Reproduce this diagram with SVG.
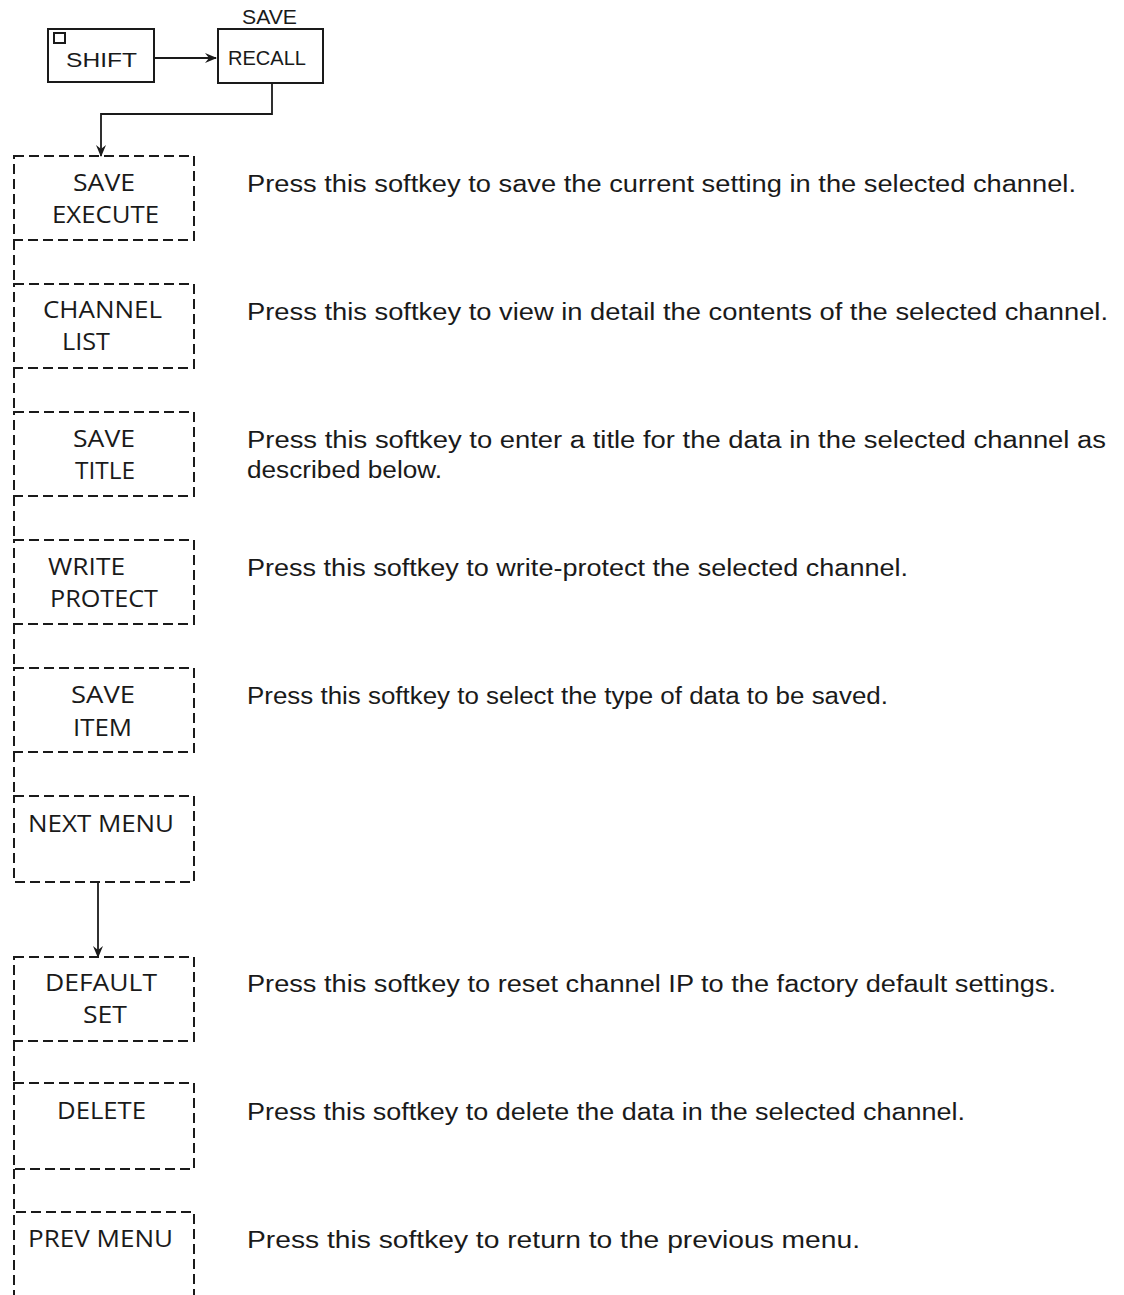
<svg xmlns="http://www.w3.org/2000/svg" width="1124" height="1295" viewBox="0 0 1124 1295">
<defs>
<style>
.key{fill:none;stroke:#1a1a1a;stroke-width:2}
.soft{fill:none;stroke:#1a1a1a;stroke-width:2;stroke-dasharray:10 5}
.link{fill:none;stroke:#1a1a1a;stroke-width:1.8}
.lbl{font-family:"Open Sans","DejaVu Sans",sans-serif;font-size:24px;fill:#1a1a1a}
.klbl{font-family:"Liberation Sans",Arial,sans-serif;font-size:21px;fill:#1a1a1a}
.desc{font-family:"Liberation Sans",Arial,sans-serif;font-size:23px;fill:#1a1a1a}
</style>
<marker id="ah" viewBox="0 0 12 12" refX="11" refY="6" markerWidth="12" markerHeight="12" markerUnits="userSpaceOnUse" orient="auto">
<path d="M0,1 L12,6 L0,11 L4,6 Z" fill="#1a1a1a"/>
</marker>
</defs>
<rect width="1124" height="1295" fill="#ffffff"/>

<g id="shift">
<rect class="key" x="48" y="29" width="106" height="53"/>
<rect class="key" x="54" y="33" width="11" height="10" stroke-width="1.5"/>
<text class="klbl" x="66" y="67" font-size="27" textLength="71" lengthAdjust="spacingAndGlyphs">SHIFT</text>
</g>
<g id="recall">
<rect class="key" x="218" y="29" width="105" height="54"/>
<text class="klbl" x="242" y="24" textLength="55" lengthAdjust="spacingAndGlyphs">SAVE</text>
<text class="klbl" x="228" y="65" textLength="78" lengthAdjust="spacingAndGlyphs">RECALL</text>
</g>

<g id="connectors">
<line class="link" x1="154" y1="58" x2="216" y2="58" marker-end="url(#ah)"/>
<path class="link" d="M272,83 V114 H101 V156" marker-end="url(#ah)"/>
<line class="link" x1="98" y1="882" x2="98" y2="957" marker-end="url(#ah)"/>
<path class="soft" d="M14,240 V284 M14,368 V412 M14,496 V540 M14,624 V668 M14,752 V796 M14,1041 V1083 M14,1169 V1212"/>
</g>

<g id="save-execute">
<rect class="soft" x="14" y="156" width="180" height="84"/>
<text class="lbl" x="73" y="191" textLength="62" lengthAdjust="spacingAndGlyphs">SAVE</text>
<text class="lbl" x="52" y="223" textLength="107" lengthAdjust="spacingAndGlyphs">EXECUTE</text>
</g>
<g id="channel-list">
<rect class="soft" x="14" y="284" width="180" height="84"/>
<text class="lbl" x="43" y="318" textLength="119" lengthAdjust="spacingAndGlyphs">CHANNEL</text>
<text class="lbl" x="62" y="350" textLength="48" lengthAdjust="spacingAndGlyphs">LIST</text>
</g>
<g id="save-title">
<rect class="soft" x="14" y="412" width="180" height="84"/>
<text class="lbl" x="73" y="447" textLength="62" lengthAdjust="spacingAndGlyphs">SAVE</text>
<text class="lbl" x="75" y="479" textLength="60" lengthAdjust="spacingAndGlyphs">TITLE</text>
</g>
<g id="write-protect">
<rect class="soft" x="14" y="540" width="180" height="84"/>
<text class="lbl" x="48" y="575" textLength="77" lengthAdjust="spacingAndGlyphs">WRITE</text>
<text class="lbl" x="50" y="607" textLength="108" lengthAdjust="spacingAndGlyphs">PROTECT</text>
</g>
<g id="save-item">
<rect class="soft" x="14" y="668" width="180" height="84"/>
<text class="lbl" x="71" y="703" textLength="64" lengthAdjust="spacingAndGlyphs">SAVE</text>
<text class="lbl" x="73" y="736" textLength="59" lengthAdjust="spacingAndGlyphs">ITEM</text>
</g>
<g id="next-menu">
<rect class="soft" x="14" y="796" width="180" height="86"/>
<text class="lbl" x="28" y="832" textLength="146" lengthAdjust="spacingAndGlyphs">NEXT MENU</text>
</g>
<g id="default-set">
<rect class="soft" x="14" y="957" width="180" height="84"/>
<text class="lbl" x="45" y="991" textLength="112" lengthAdjust="spacingAndGlyphs">DEFAULT</text>
<text class="lbl" x="83" y="1023" textLength="44" lengthAdjust="spacingAndGlyphs">SET</text>
</g>
<g id="delete">
<rect class="soft" x="14" y="1083" width="180" height="86"/>
<text class="lbl" x="57" y="1119" textLength="89" lengthAdjust="spacingAndGlyphs">DELETE</text>
</g>
<g id="prev-menu">
<path class="soft" d="M14,1300 V1212 H194 V1300"/>
<text class="lbl" x="28" y="1247" textLength="145" lengthAdjust="spacingAndGlyphs">PREV MENU</text>
</g>

<g id="descriptions">
<text class="desc" x="247" y="192" textLength="829" lengthAdjust="spacingAndGlyphs">Press this softkey to save the current setting in the selected channel.</text>
<text class="desc" x="247" y="320" textLength="861" lengthAdjust="spacingAndGlyphs">Press this softkey to view in detail the contents of the selected channel.</text>
<text class="desc" x="247" y="448" textLength="859" lengthAdjust="spacingAndGlyphs">Press this softkey to enter a title for the data in the selected channel as</text>
<text class="desc" x="247" y="478" textLength="195" lengthAdjust="spacingAndGlyphs">described below.</text>
<text class="desc" x="247" y="576" textLength="661" lengthAdjust="spacingAndGlyphs">Press this softkey to write-protect the selected channel.</text>
<text class="desc" x="247" y="704" textLength="641" lengthAdjust="spacingAndGlyphs">Press this softkey to select the type of data to be saved.</text>
<text class="desc" x="247" y="992" textLength="809" lengthAdjust="spacingAndGlyphs">Press this softkey to reset channel IP to the factory default settings.</text>
<text class="desc" x="247" y="1120" textLength="718" lengthAdjust="spacingAndGlyphs">Press this softkey to delete the data in the selected channel.</text>
<text class="desc" x="247" y="1248" textLength="613" lengthAdjust="spacingAndGlyphs">Press this softkey to return to the previous menu.</text>
</g>
</svg>
